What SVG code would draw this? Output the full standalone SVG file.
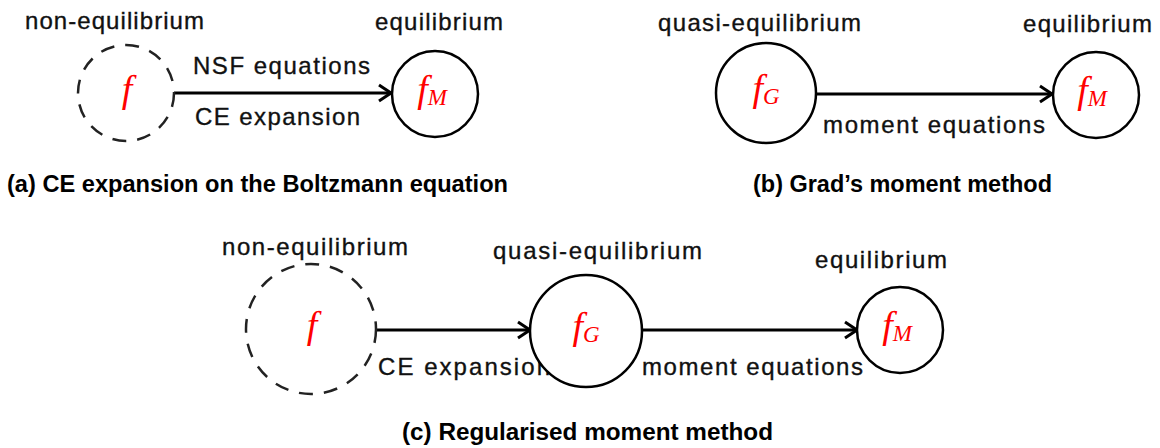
<svg xmlns="http://www.w3.org/2000/svg" width="1160" height="448" viewBox="0 0 1160 448">
<style>
.lbl{font-family:"Liberation Sans",Arial,sans-serif;font-size:24px;fill:#111;stroke:#111;stroke-width:0.35}
.cap{font-family:"Liberation Sans",Arial,sans-serif;font-size:23px;font-weight:bold;fill:#000}
.nd{fill:#fff;stroke:#000;stroke-width:2.5}
.dash{fill:#fff;stroke:#222;stroke-width:2.5;stroke-dasharray:14 11}
.f{font-family:"Liberation Serif","Times New Roman",serif;font-style:italic;fill:#ff0000;font-size:38px}
.sub{font-size:23px}
.ln{stroke:#000;stroke-width:3;fill:none}
</style>
<defs>
<marker id="ah" markerUnits="userSpaceOnUse" markerWidth="16" markerHeight="20" refX="14" refY="10" orient="auto">
<path d="M2,2 L14,10 L2,18" fill="none" stroke="#000" stroke-width="3"/>
</marker>
</defs>

<g id="labels">
<text class="lbl" x="25" y="29" textLength="179" lengthAdjust="spacing">non-equilibrium</text>
<text class="lbl" x="375" y="30" textLength="128" lengthAdjust="spacing">equilibrium</text>
<text class="lbl" x="193" y="74" textLength="177" lengthAdjust="spacing">NSF equations</text>
<text class="lbl" x="195" y="125" textLength="165" lengthAdjust="spacing">CE expansion</text>
<text class="lbl" x="658" y="31" textLength="203" lengthAdjust="spacing">quasi-equilibrium</text>
<text class="lbl" x="1023" y="32" textLength="129" lengthAdjust="spacing">equilibrium</text>
<text class="lbl" x="823" y="133" textLength="222" lengthAdjust="spacing">moment equations</text>
<text class="lbl" x="222" y="255" textLength="186" lengthAdjust="spacing">non-equilibrium</text>
<text class="lbl" x="493" y="259" textLength="209" lengthAdjust="spacing">quasi-equilibrium</text>
<text class="lbl" x="815" y="268" textLength="132" lengthAdjust="spacing">equilibrium</text>
<text class="lbl" x="378" y="375" textLength="172" lengthAdjust="spacing">CE expansion</text>
<text class="lbl" x="642" y="375" textLength="221" lengthAdjust="spacing">moment equations</text>
<text class="cap" x="7" y="192" textLength="501" lengthAdjust="spacingAndGlyphs">(a) CE expansion on the Boltzmann equation</text>
<text class="cap" x="753" y="192" textLength="299" lengthAdjust="spacingAndGlyphs">(b) Grad’s moment method</text>
<text class="cap" x="402" y="440" textLength="371" lengthAdjust="spacingAndGlyphs">(c) Regularised moment method</text>
</g>

<g id="connectors">
<line class="ln" x1="174" y1="93" x2="391" y2="93" marker-end="url(#ah)"/>
<line class="ln" x1="816" y1="94" x2="1052" y2="94" marker-end="url(#ah)"/>
<line class="ln" x1="377" y1="330" x2="530" y2="330" marker-end="url(#ah)"/>
<line class="ln" x1="642" y1="330" x2="857" y2="330" marker-end="url(#ah)"/>
</g>

<g id="a-nonequilibrium">
<circle class="dash" cx="126" cy="93" r="48"/>
<text class="f" x="127" y="102" text-anchor="middle">f</text>
</g>
<g id="a-equilibrium">
<circle class="nd" cx="435" cy="94" r="43"/>
<text class="f" x="432" y="102" text-anchor="middle">f<tspan class="sub" dy="3">M</tspan></text>
</g>
<g id="b-quasi">
<circle class="nd" cx="766" cy="93" r="50"/>
<text class="f" x="766" y="101" text-anchor="middle">f<tspan class="sub" dy="3">G</tspan></text>
</g>
<g id="b-equilibrium">
<circle class="nd" cx="1096" cy="95" r="43"/>
<text class="f" x="1092" y="103" text-anchor="middle">f<tspan class="sub" dy="3">M</tspan></text>
</g>
<g id="c-nonequilibrium">
<circle class="dash" cx="311" cy="329" r="65"/>
<text class="f" x="312" y="338" text-anchor="middle">f</text>
</g>
<g id="c-quasi">
<circle class="nd" cx="586" cy="331" r="56"/>
<text class="f" x="586" y="339" text-anchor="middle">f<tspan class="sub" dy="3">G</tspan></text>
</g>
<g id="c-equilibrium">
<circle class="nd" cx="900" cy="330" r="43"/>
<text class="f" x="897" y="338" text-anchor="middle">f<tspan class="sub" dy="3">M</tspan></text>
</g>
</svg>
